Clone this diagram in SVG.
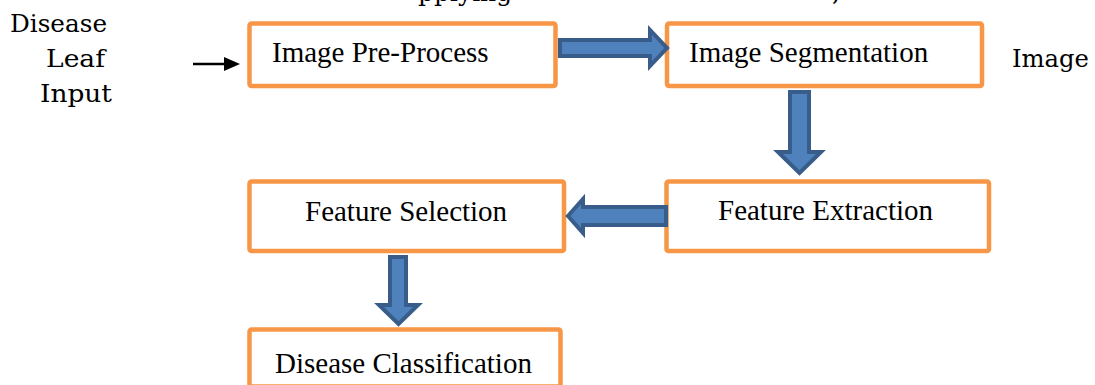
<svg xmlns="http://www.w3.org/2000/svg" width="1095" height="385" viewBox="0 0 1095 385">
  <style>
    .box { fill: #FFFFFF; stroke: #F79646; stroke-width: 4.5; }
    .lbl { font-family: "Liberation Serif", "Times New Roman", serif; font-size: 29px; fill: #000000; }
    .side { font-family: "DejaVu Serif", "Liberation Serif", serif; font-size: 25px; fill: #000000; }
    .block { fill: #4F81BD; stroke: #385D8A; stroke-width: 4; stroke-linejoin: miter; }
  </style>
  <rect x="0" y="0" width="1095" height="385" fill="#FFFFFF"/>

  <g id="clipped-text">
    <text class="side" x="418" y="1">pplying</text>
    <text class="side" x="832" y="1">,</text>
  </g>

  <g id="input-label">
    <text class="side" x="10" y="32" textLength="97" lengthAdjust="spacingAndGlyphs">Disease</text>
    <text class="side" x="46" y="67" textLength="59" lengthAdjust="spacingAndGlyphs">Leaf</text>
    <text class="side" x="40" y="102" textLength="72" lengthAdjust="spacingAndGlyphs">Input</text>
  </g>

  <g id="image-label">
    <text class="side" x="1012" y="67" textLength="77" lengthAdjust="spacingAndGlyphs">Image</text>
  </g>

  <g id="node-preprocess">
    <rect class="box" x="249.5" y="23.5" width="306" height="62.5" rx="2"/>
    <text class="lbl" x="272" y="62">Image Pre-Process</text>
  </g>

  <g id="node-segmentation">
    <rect class="box" x="667" y="23.5" width="315" height="62.5" rx="2"/>
    <text class="lbl" x="689" y="62">Image Segmentation</text>
  </g>

  <g id="node-extraction">
    <rect class="box" x="666.5" y="181.5" width="322.5" height="69.5" rx="2"/>
    <text class="lbl" x="718" y="220">Feature Extraction</text>
  </g>

  <g id="node-selection">
    <rect class="box" x="249.5" y="181.5" width="314.5" height="69.5" rx="2"/>
    <text class="lbl" x="305" y="221">Feature Selection</text>
  </g>

  <g id="node-classification">
    <rect class="box" x="249.5" y="329.5" width="311" height="57" rx="2"/>
    <text class="lbl" x="275" y="373">Disease Classification</text>
  </g>

  <g id="connectors">
    <line x1="193" y1="64" x2="227" y2="64" stroke="#000000" stroke-width="2.5"/>
    <polygon points="224,57 240,64 224,71" fill="#000000"/>
    <path class="block" d="M560,40 L650,40 L650,30 L667,48 L650,66 L650,56 L560,56 Z"/>
    <path class="block" d="M790,92 L809,92 L809,152 L821,152 L799.5,173 L778,152 L790,152 Z"/>
    <path class="block" d="M666,207 L583,207 L583,199 L568,216 L583,233 L583,225 L666,225 Z"/>
    <path class="block" d="M390,257 L406,257 L406,305 L418,305 L398.5,324 L379,305 L390,305 Z"/>
  </g>
</svg>
